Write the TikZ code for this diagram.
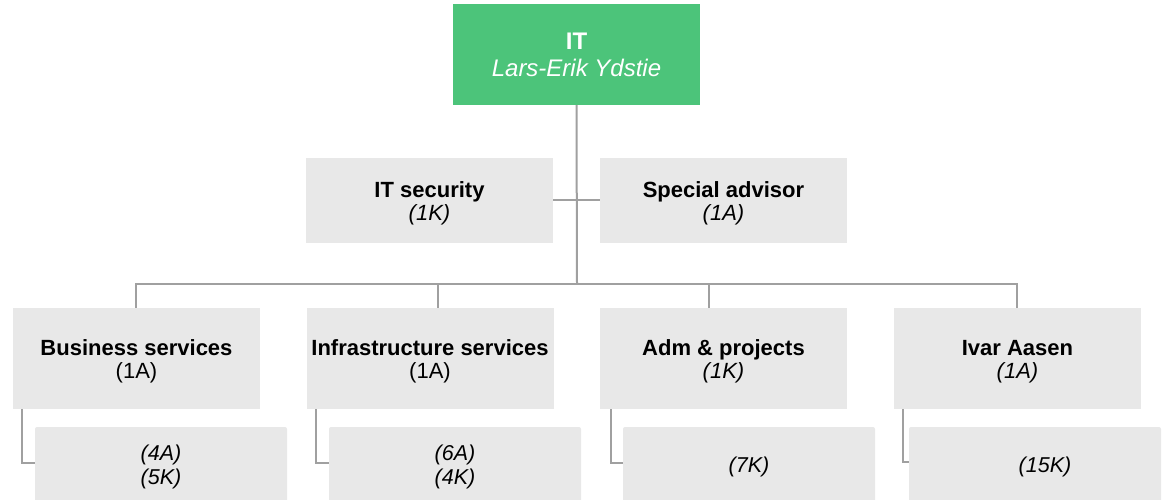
\documentclass[tikz,border=0pt]{standalone}
\usepackage{fontspec}
\setmainfont{Liberation Sans}
\definecolor{itgreen}{HTML}{4CC47A}
\definecolor{boxgray}{HTML}{E8E8E8}
\definecolor{linegray}{HTML}{A0A0A0}
\newcommand\lowstrut{\rule{0pt}{21.5pt}}
\begin{document}
\begin{tikzpicture}[x=1pt,y=-1pt,
  box/.style={fill=boxgray, draw=none, inner sep=0pt, minimum width=247pt, align=center,
    font=\fontsize{22}{22.5}\selectfont},
  topbox/.style={fill=itgreen, draw=none, inner sep=0pt, minimum width=247pt, minimum height=101pt,
    align=center, text=white, font=\fontsize{24}{27}\selectfont},
  subbox/.style={fill=boxgray, draw=none, inner sep=0pt, minimum width=252pt, minimum height=80pt,
    rounded corners=2pt, align=center, font=\fontsize{21.5}{24}\selectfont},
  conn/.style={draw=linegray, line width=2pt}]
\useasboundingbox (0,0) rectangle (1163,500);

\node[topbox] (it) at (576.5,54.5) {\textbf{IT}\\\textit{Lars-Erik Ydstie}};

\node[box, minimum height=85pt] (sec) at (429.5,200.5) {\lowstrut\textbf{IT security}\\\textit{(1K)}};
\node[box, minimum height=85pt] (adv) at (723.5,200.5) {\lowstrut\textbf{Special advisor}\\\textit{(1A)}};

\node[box, minimum height=101pt] (bus) at (136.5,358.5) {\lowstrut\textbf{Business services}\\(1A)};
\node[box, minimum height=101pt] (inf) at (430,358.5) {\lowstrut\textbf{Infrastructure services}\\(1A)};
\node[box, minimum height=101pt] (adm) at (723.5,358.5) {\lowstrut\textbf{Adm \& projects}\\\textit{(1K)}};
\node[box, minimum height=101pt] (iva) at (1017.5,358.5) {\lowstrut\textbf{Ivar Aasen}\\\textit{(1A)}};

\node[subbox] (bs) at (161,467) {\textit{(4A)}\\\textit{(5K)}};
\node[subbox] (is) at (455,467) {\textit{(6A)}\\\textit{(4K)}};
\node[subbox] (as) at (749,467) {\textit{(7K)}};
\node[subbox] (vs) at (1035,467) {\hspace*{20pt}\textit{(15K)}};

\coordinate (hub) at (577,284);
\draw[conn] (it.south) -- (hub);
\draw[conn] (sec.east) -- (adv.west);
\draw[conn] ([xshift=-0.5pt]bus.north) -- ([xshift=-0.5pt]bus.north |- hub) -| ([xshift=-0.5pt]iva.north);
\draw[conn] ([xshift=8pt]inf.north) -- ([xshift=8pt]inf.north |- hub);
\draw[conn] ([xshift=-14.5pt]adm.north) -- ([xshift=-14.5pt]adm.north |- hub);

\draw[conn] ([xshift=9pt]bus.south west) |- ([yshift=4pt]bs.west);
\draw[conn] ([xshift=10pt]inf.south west) |- ([yshift=4pt]is.west);
\draw[conn] ([xshift=11pt]adm.south west) |- ([yshift=4pt]as.west);
\draw[conn] ([xshift=9pt]iva.south west) |- ([yshift=5pt]vs.west);
\end{tikzpicture}
\end{document}
